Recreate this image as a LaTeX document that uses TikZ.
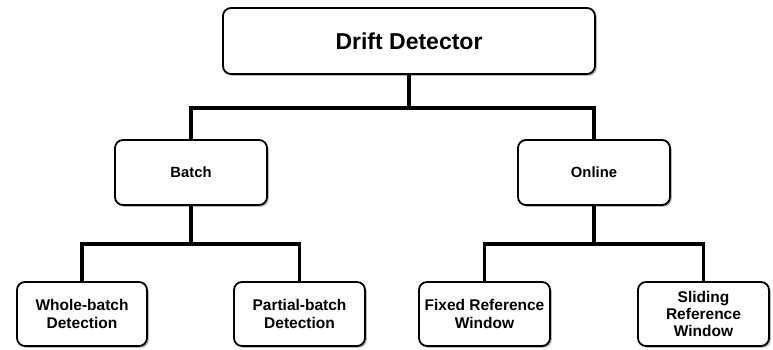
\documentclass[tikz,border=0pt]{standalone}
\usepackage{fontspec}
\setmainfont{Liberation Sans}
\usetikzlibrary{shadows}
\begin{document}
\begin{tikzpicture}[x=1pt,y=-1pt,
  box/.style={draw=black, line width=1.8pt, rounded corners=8pt, fill=white,
    drop shadow={shadow xshift=1.8pt, shadow yshift=-1.8pt, fill=black!45, opacity=0.6},
    align=center, inner sep=0pt, font=\bfseries\fontsize{15.5}{17.3}\selectfont},
  conn/.style={line width=3.8pt, draw=black}]
\useasboundingbox (0,0) rectangle (773,350);
\node[box, minimum width=372pt, minimum height=66pt, font=\bfseries\fontsize{23}{26}\selectfont] (top) at (409,41) {Drift Detector};
\node[box, minimum width=152pt, minimum height=65pt, font=\bfseries\fontsize{14.8}{17}\selectfont] (batch) at (191,172.5) {Batch};
\node[box, minimum width=152pt, minimum height=65pt, font=\bfseries\fontsize{14.8}{17}\selectfont] (online) at (594,172.5) {Online};
\node[box, minimum width=130pt, minimum height=64pt] (whole) at (82,314) {Whole-batch\\Detection};
\node[box, minimum width=131pt, minimum height=64pt] (partial) at (299.5,314) {Partial-batch\\Detection};
\node[box, minimum width=131pt, minimum height=64pt] (fixed) at (484.5,314) {Fixed Reference\\Window};
\node[box, minimum width=131pt, minimum height=64pt] (sliding) at (703.5,314) {Sliding\\Reference\\Window};
\coordinate (j1) at (409,108);
\coordinate (j2) at (191,244);
\coordinate (j3) at (594,244);
\draw[conn] (top.south) -- (j1);
\draw[conn] (j1) -| (batch.north);
\draw[conn] (j1) -| (online.north);
\draw[conn] (batch.south) -- (j2);
\draw[conn] (j2) -| (whole.north);
\draw[conn] (j2) -| (partial.north);
\draw[conn] (online.south) -- (j3);
\draw[conn] (j3) -| (fixed.north);
\draw[conn] (j3) -| (sliding.north);
\end{tikzpicture}
\end{document}
